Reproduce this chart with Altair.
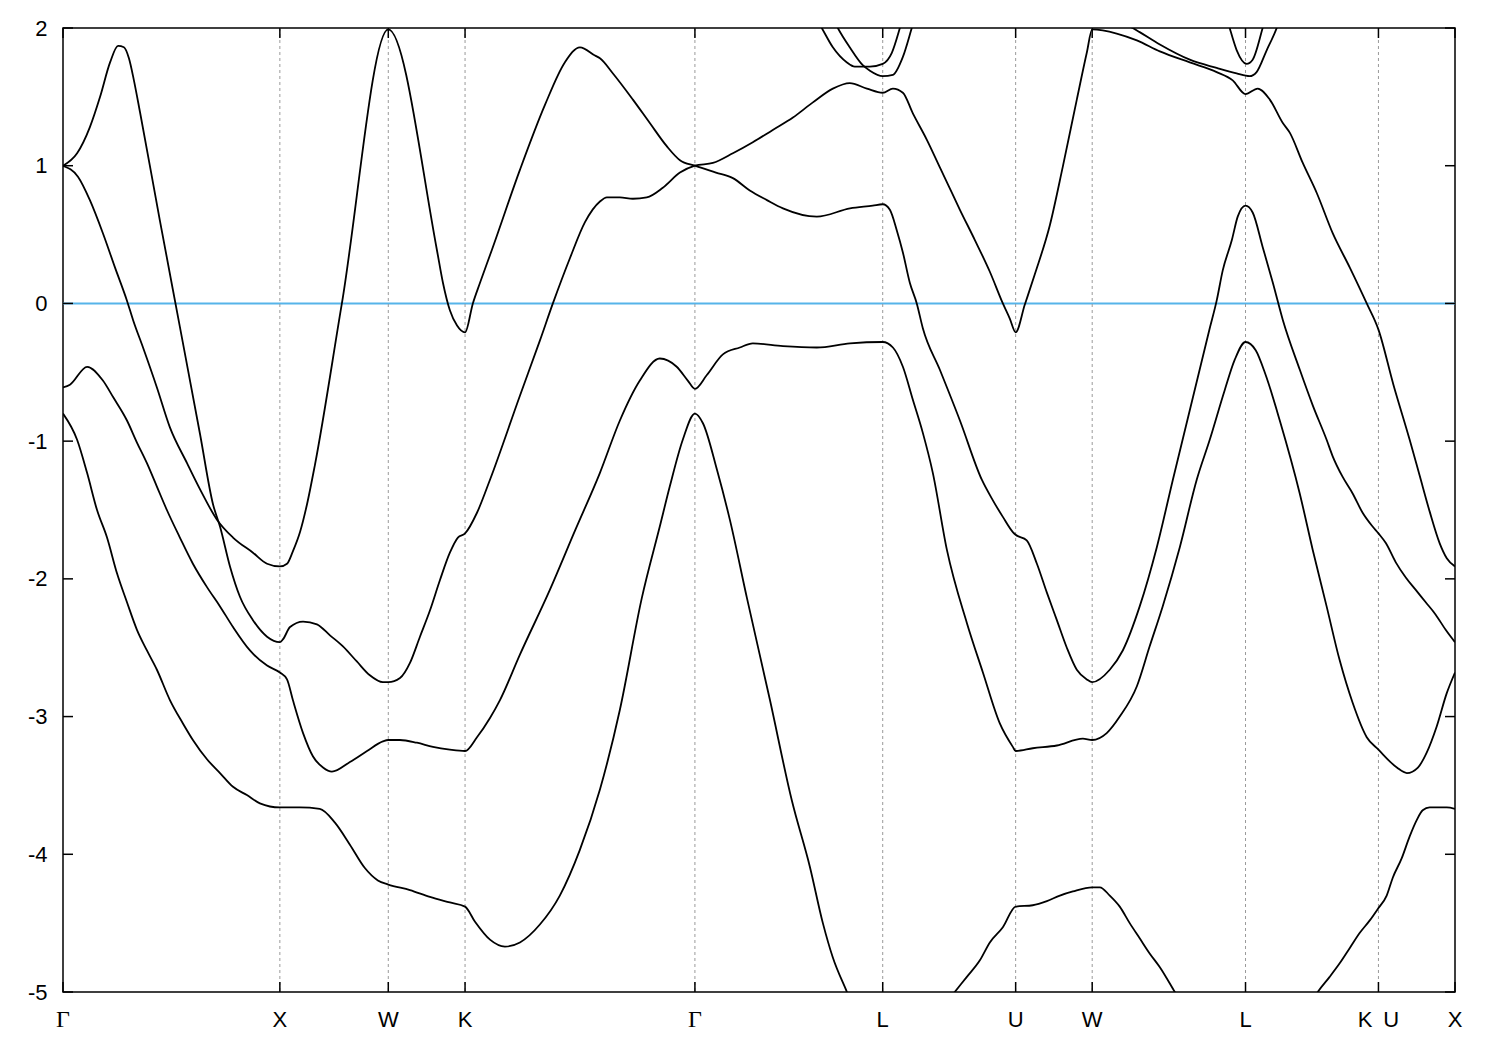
import altair as alt
import pandas as pd

# High-symmetry points (k-path distance in units of 2*pi/a)
sym_k = [0.0, 1.0, 1.5, 1.854, 2.914, 3.780, 4.393, 4.746, 5.453, 6.066, 6.419]
sym_label = ["Γ", "X", "W", "K", "Γ", "L", "U", "W", "L", "K\u2002U", "X"]

# Bands (k, E in eV)
b1_k = [0.0, 0.065, 0.111, 0.157, 0.203, 0.249, 0.295, 0.341, 0.387, 0.433, 0.493, 0.553, 0.599, 0.664, 0.724, 0.784, 0.848, 0.908, 1.0, 1.092, 1.184, 1.254, 1.323, 1.392, 1.452, 1.5, 1.600, 1.692, 1.784, 1.854, 1.900, 1.969, 2.038, 2.107, 2.199, 2.291, 2.383, 2.476, 2.568, 2.669, 2.752, 2.798, 2.858, 2.914, 2.951, 3.016, 3.075, 3.154, 3.260, 3.361, 3.444, 3.504, 3.550, 3.615, 3.675]
b1_e = [-0.80, -0.99, -1.23, -1.50, -1.70, -1.96, -2.17, -2.37, -2.52, -2.66, -2.88, -3.05, -3.17, -3.31, -3.41, -3.51, -3.57, -3.63, -3.66, -3.66, -3.67, -3.77, -3.93, -4.10, -4.19, -4.22, -4.26, -4.31, -4.35, -4.38, -4.49, -4.62, -4.67, -4.64, -4.51, -4.30, -3.97, -3.53, -2.95, -2.14, -1.62, -1.33, -0.99, -0.80, -0.87, -1.21, -1.57, -2.14, -2.88, -3.61, -4.09, -4.50, -4.75, -5.00, -5.23]

b1b_k = [4.043, 4.112, 4.168, 4.228, 4.274, 4.334, 4.393, 4.472, 4.537, 4.597, 4.657, 4.746, 4.781, 4.827, 4.873, 4.919, 4.965, 5.011, 5.058, 5.127, 5.196]
b1b_e = [-5.14, -5.00, -4.89, -4.77, -4.64, -4.53, -4.38, -4.37, -4.34, -4.30, -4.27, -4.24, -4.24, -4.30, -4.38, -4.50, -4.61, -4.72, -4.82, -5.00, -5.18]

b1c_k = [5.726, 5.786, 5.841, 5.888, 5.934, 5.980, 6.026, 6.066, 6.104, 6.132, 6.173, 6.210, 6.243, 6.270, 6.302, 6.381, 6.419]
b1c_e = [-5.16, -5.00, -4.89, -4.79, -4.68, -4.57, -4.48, -4.39, -4.30, -4.17, -4.03, -3.87, -3.75, -3.68, -3.66, -3.66, -3.67]

b2_k = [0.0, 0.032, 0.111, 0.184, 0.231, 0.295, 0.341, 0.387, 0.433, 0.479, 0.539, 0.599, 0.664, 0.724, 0.784, 0.862, 0.941, 1.0, 1.033, 1.060, 1.107, 1.153, 1.199, 1.240, 1.323, 1.402, 1.475, 1.5, 1.554, 1.632, 1.706, 1.784, 1.854, 1.909, 1.969, 2.015, 2.107, 2.245, 2.361, 2.476, 2.568, 2.660, 2.752, 2.830, 2.881, 2.914, 2.969, 3.043, 3.121, 3.181, 3.320, 3.476, 3.629, 3.780, 3.827, 3.873, 3.919, 3.965, 4.011, 4.076, 4.168, 4.242, 4.320, 4.380, 4.393, 4.472, 4.583, 4.703, 4.746, 4.813, 4.873, 4.952, 5.011, 5.071, 5.150, 5.228, 5.288, 5.357, 5.403, 5.453, 5.500, 5.546, 5.611, 5.703, 5.763, 5.827, 5.887, 5.947, 6.012, 6.066, 6.151, 6.197, 6.248, 6.289, 6.335, 6.381, 6.419]
b2_e = [-0.61, -0.59, -0.46, -0.56, -0.68, -0.85, -1.01, -1.16, -1.33, -1.50, -1.70, -1.89, -2.06, -2.20, -2.35, -2.52, -2.63, -2.68, -2.73, -2.88, -3.12, -3.29, -3.37, -3.40, -3.33, -3.25, -3.18, -3.17, -3.17, -3.19, -3.22, -3.24, -3.25, -3.15, -3.01, -2.88, -2.55, -2.08, -1.65, -1.23, -0.85, -0.56, -0.40, -0.46, -0.56, -0.62, -0.52, -0.37, -0.32, -0.29, -0.31, -0.32, -0.29, -0.28, -0.32, -0.46, -0.70, -0.94, -1.23, -1.79, -2.32, -2.68, -3.05, -3.22, -3.25, -3.23, -3.21, -3.16, -3.17, -3.12, -3.00, -2.78, -2.49, -2.20, -1.77, -1.28, -0.99, -0.63, -0.41, -0.28, -0.34, -0.52, -0.85, -1.38, -1.79, -2.20, -2.59, -2.90, -3.15, -3.24, -3.37, -3.41, -3.37, -3.26, -3.07, -2.83, -2.68]

b3_k = [0.0, 0.069, 0.124, 0.184, 0.240, 0.295, 0.323, 0.369, 0.433, 0.493, 0.572, 0.632, 0.710, 0.784, 0.876, 0.941, 1.0, 1.033, 1.060, 1.093, 1.125, 1.162, 1.286, 1.5, 1.724, 1.752, 1.784, 1.817, 1.854, 1.890, 1.923, 1.978, 2.107, 2.222, 2.314, 2.384, 2.453, 2.476, 2.536, 2.628, 2.706, 2.785, 2.845, 2.914, 3.011, 3.089, 3.167, 3.246, 3.320, 3.476, 3.629, 3.734, 3.780, 3.813, 3.845, 3.873, 3.905, 3.937, 3.965, 4.043, 4.136, 4.237, 4.288, 4.334, 4.380, 4.393, 4.444, 4.491, 4.537, 4.583, 4.629, 4.675, 4.721, 4.746, 4.827, 4.887, 4.965, 5.044, 5.118, 5.288, 5.320, 5.348, 5.390, 5.417, 5.453, 5.486, 5.532, 5.579, 5.625, 5.703, 5.763, 5.827, 5.855, 5.901, 5.947, 5.993, 6.039, 6.066, 6.100, 6.146, 6.192, 6.238, 6.284, 6.330, 6.376, 6.419]
b3_e = [1.00, 0.92, 0.75, 0.51, 0.26, 0.02, -0.12, -0.32, -0.61, -0.90, -1.16, -1.35, -1.57, -1.70, -1.81, -1.89, -1.91, -1.89, -1.80, -1.66, -1.46, -1.17, 0.00, 1.99, 0.39, 0.15, -0.05, -0.16, -0.21, 0.00, 0.15, 0.39, 0.97, 1.44, 1.75, 1.86, 1.80, 1.78, 1.67, 1.48, 1.31, 1.14, 1.04, 1.00, 0.95, 0.91, 0.82, 0.75, 0.69, 0.63, 0.69, 0.71, 0.72, 0.68, 0.53, 0.37, 0.15, 0.00, -0.18, -0.48, -0.85, -1.28, -1.43, -1.55, -1.66, -1.68, -1.72, -1.89, -2.10, -2.30, -2.50, -2.66, -2.73, -2.75, -2.66, -2.52, -2.20, -1.77, -1.28, -0.18, 0.02, 0.24, 0.46, 0.63, 0.71, 0.66, 0.41, 0.15, -0.12, -0.48, -0.74, -0.99, -1.11, -1.26, -1.38, -1.52, -1.62, -1.67, -1.74, -1.88, -1.99, -2.08, -2.17, -2.26, -2.37, -2.46]

b4_k = [0.0, 0.065, 0.124, 0.171, 0.217, 0.254, 0.281, 0.304, 0.327, 0.355, 0.447, 0.539, 0.632, 0.692, 0.724, 0.770, 0.816, 0.876, 0.941, 1.0, 1.014, 1.047, 1.107, 1.171, 1.231, 1.291, 1.355, 1.415, 1.475, 1.5, 1.554, 1.600, 1.646, 1.692, 1.738, 1.784, 1.821, 1.854, 1.909, 1.969, 2.107, 2.199, 2.259, 2.338, 2.407, 2.476, 2.508, 2.568, 2.628, 2.692, 2.766, 2.845, 2.914, 2.997, 3.089, 3.181, 3.273, 3.366, 3.458, 3.550, 3.628, 3.707, 3.780, 3.827, 3.873, 3.919, 3.983, 4.043, 4.085, 4.136, 4.205, 4.274, 4.334, 4.366, 4.393, 4.435, 4.481, 4.551, 4.610, 4.675, 4.721, 4.746, 4.859, 4.952, 5.058, 5.196, 5.320, 5.394, 5.453, 5.509, 5.565, 5.625, 5.657, 5.717, 5.782, 5.855, 5.934, 6.012, 6.066, 6.135, 6.210, 6.256, 6.302, 6.348, 6.381, 6.419]
b4_e = [1.00, 1.09, 1.28, 1.50, 1.75, 1.87, 1.86, 1.78, 1.62, 1.39, 0.60, -0.17, -0.95, -1.46, -1.62, -1.91, -2.13, -2.30, -2.42, -2.46, -2.44, -2.35, -2.31, -2.33, -2.41, -2.49, -2.60, -2.70, -2.75, -2.75, -2.72, -2.61, -2.42, -2.23, -2.01, -1.81, -1.70, -1.67, -1.52, -1.28, -0.67, -0.27, 0.00, 0.33, 0.59, 0.74, 0.77, 0.77, 0.76, 0.77, 0.84, 0.95, 1.00, 1.02, 1.09, 1.17, 1.26, 1.35, 1.46, 1.56, 1.60, 1.56, 1.53, 1.56, 1.53, 1.38, 1.19, 0.99, 0.85, 0.68, 0.46, 0.23, 0.00, -0.11, -0.21, -0.01, 0.21, 0.57, 0.99, 1.48, 1.82, 1.99, 1.96, 1.91, 1.83, 1.75, 1.68, 1.62, 1.52, 1.56, 1.48, 1.31, 1.24, 1.02, 0.80, 0.51, 0.26, 0.00, -0.19, -0.59, -0.99, -1.25, -1.51, -1.74, -1.85, -1.91]

b5_k = [3.444, 3.499, 3.550, 3.615, 3.651, 3.721, 3.780, 3.822, 3.859, 3.882]
b5_e = [2.15, 2.00, 1.86, 1.75, 1.72, 1.72, 1.74, 1.82, 2.00, 2.13]

b6_k = [3.527, 3.573, 3.628, 3.688, 3.721, 3.780, 3.827, 3.873, 3.914, 3.942]
b6_e = [2.15, 2.00, 1.86, 1.73, 1.69, 1.65, 1.66, 1.79, 2.00, 2.15]

b7_k = [4.781, 4.933, 4.965, 5.058, 5.196, 5.320, 5.412, 5.472, 5.504, 5.551, 5.597, 5.625]
b7_e = [2.09, 2.00, 1.97, 1.88, 1.77, 1.71, 1.67, 1.65, 1.68, 1.84, 2.00, 2.13]

b8_k = [5.357, 5.380, 5.412, 5.458, 5.486, 5.532, 5.555]
b8_e = [2.13, 2.00, 1.84, 1.74, 1.77, 2.00, 2.13]

y_ticks = [-5, -4, -3, -2, -1, 0, 1, 2]

bands = [("b1", b1_k, b1_e), ("b1b", b1b_k, b1b_e), ("b1c", b1c_k, b1c_e),
         ("b2", b2_k, b2_e), ("b3", b3_k, b3_e), ("b4", b4_k, b4_e),
         ("b5", b5_k, b5_e), ("b6", b6_k, b6_e), ("b7", b7_k, b7_e), ("b8", b8_k, b8_e)]
rows = []
for name, ks, es in bands:
    for i, (k, e) in enumerate(zip(ks, es)):
        rows.append({"band": name, "i": i, "k": k, "e": e})
df = pd.DataFrame(rows)

W, H = 1392, 964
xs = alt.Scale(domain=[sym_k[0], sym_k[-1]], nice=False, zero=False)
ys = alt.Scale(domain=[-5, 2], nice=False, zero=False)

sym_df = pd.DataFrame({"k": sym_k, "label": sym_label})
inner_df = sym_df.iloc[1:-1]
yt_df = pd.DataFrame({"e": y_ticks})

zero = alt.Chart(pd.DataFrame({"e": [0]})).mark_rule(color="#56B4E9", strokeWidth=2).encode(
    y=alt.Y("e:Q", scale=ys,
            axis=alt.Axis(values=y_ticks, ticks=False, domain=False, grid=False,
                          labelFont="Liberation Sans", labelFontSize=22, labelColor="black",
                          labelPadding=16, labelExpr="'' + datum.value", title=None)))

grid = alt.Chart(inner_df).mark_rule(color="#9a9a9a", strokeWidth=1, strokeDash=[3, 3]).encode(
    x=alt.X("k:Q", scale=xs, axis=None))

lines = alt.Chart(df).mark_line(color="black", strokeWidth=1.8, clip=True, interpolate="monotone").encode(
    x=alt.X("k:Q", scale=xs, axis=None),
    y=alt.Y("e:Q", scale=ys),
    detail="band:N",
    order="i:Q")

tick_style = dict(color="black", strokeWidth=1.5)
ytl = alt.Chart(yt_df).mark_rule(**tick_style).encode(y=alt.Y("e:Q", scale=ys), x=alt.value(0), x2=alt.value(10))
ytr = alt.Chart(yt_df).mark_rule(**tick_style).encode(y=alt.Y("e:Q", scale=ys), x=alt.value(W - 10), x2=alt.value(W))
xtb = alt.Chart(sym_df).mark_rule(**tick_style).encode(x=alt.X("k:Q", scale=xs), y=alt.value(H - 10), y2=alt.value(H))
xtt = alt.Chart(sym_df).mark_rule(**tick_style).encode(x=alt.X("k:Q", scale=xs), y=alt.value(0), y2=alt.value(10))

gamma_df = sym_df[sym_df["label"] == "Γ"]
other_df = sym_df[sym_df["label"] != "Γ"]
lab_g = alt.Chart(gamma_df).mark_text(font="Liberation Serif", fontSize=24, baseline="middle", align="center").encode(
    x=alt.X("k:Q", scale=xs), y=alt.value(H + 28), text="label:N")
lab_o = alt.Chart(other_df).mark_text(font="Liberation Sans", fontSize=22, baseline="middle", align="center").encode(
    x=alt.X("k:Q", scale=xs), y=alt.value(H + 28), text="label:N")

chart = alt.layer(zero, grid, lines, ytl, ytr, xtb, xtt, lab_g, lab_o).properties(
    width=W, height=H,
    background="white",
    autosize=alt.AutoSizeParams(type="none"),
    padding={"left": 55, "top": 20, "right": 37, "bottom": 50},
).configure_view(stroke="black", strokeWidth=1.5)

chart.save("out.html", embed_options={"renderer": "svg", "actions": False})
